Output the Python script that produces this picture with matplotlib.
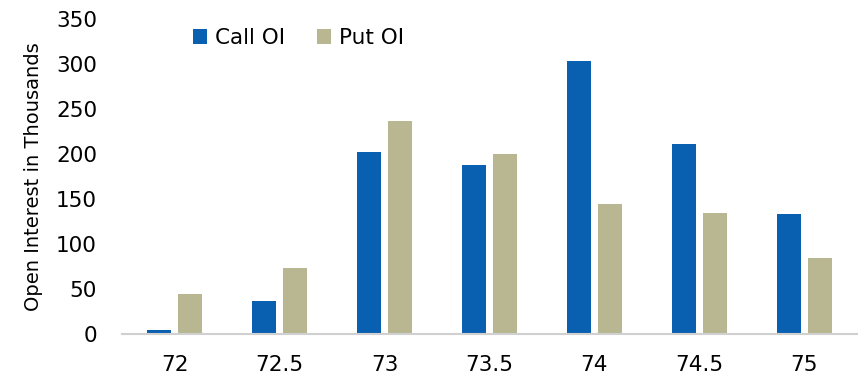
import numpy as np
import matplotlib
matplotlib.use('Agg')
import matplotlib.pyplot as plt

strikes = ['72', '72.5', '73', '73.5', '74', '74.5', '75']
call_oi = [5, 37, 202, 188, 303, 211, 133]
put_oi = [44, 73, 237, 200, 145, 135, 84]

plt.rcParams['font.family'] = ['DejaVu Sans']

fig = plt.figure(figsize=(8.63, 3.78), dpi=100)
ax = fig.add_axes([0.1414, 0.1164, 0.8516, 0.8333])

x = np.arange(len(strikes))
w = 0.23
ax.bar(x - 0.145, call_oi, width=w, color='#0A60B0', label='Call OI', zorder=2)
ax.bar(x + 0.145, put_oi, width=w, color='#B9B792', label='Put OI', zorder=2)

ax.set_xlim(-0.5, len(strikes) - 0.5)
ax.set_ylim(0, 350)
ax.set_yticks(range(0, 351, 50))
ax.set_xticks(x)
ax.set_xticklabels(strikes)
ax.tick_params(axis='both', length=0, labelsize=15.5, colors='black')
ax.tick_params(axis='x', pad=15)
ax.tick_params(axis='y', pad=18)

for s in ['top', 'right', 'left']:
    ax.spines[s].set_visible(False)
ax.spines['bottom'].set_color('#D0D0D0')
ax.spines['bottom'].set_linewidth(1.5)

ax.set_ylabel('Open Interest in Thousands', fontsize=14)
ax.yaxis.set_label_coords(-0.107, 0.5)

ax.legend(loc='center left', bbox_to_anchor=(0.0966, 0.94), ncol=2, frameon=False,
          fontsize=15.5, handlelength=0.65, handleheight=0.65, handletextpad=0.37,
          columnspacing=1.5, borderpad=0, borderaxespad=0)

fig.savefig('out.png', dpi=100)
